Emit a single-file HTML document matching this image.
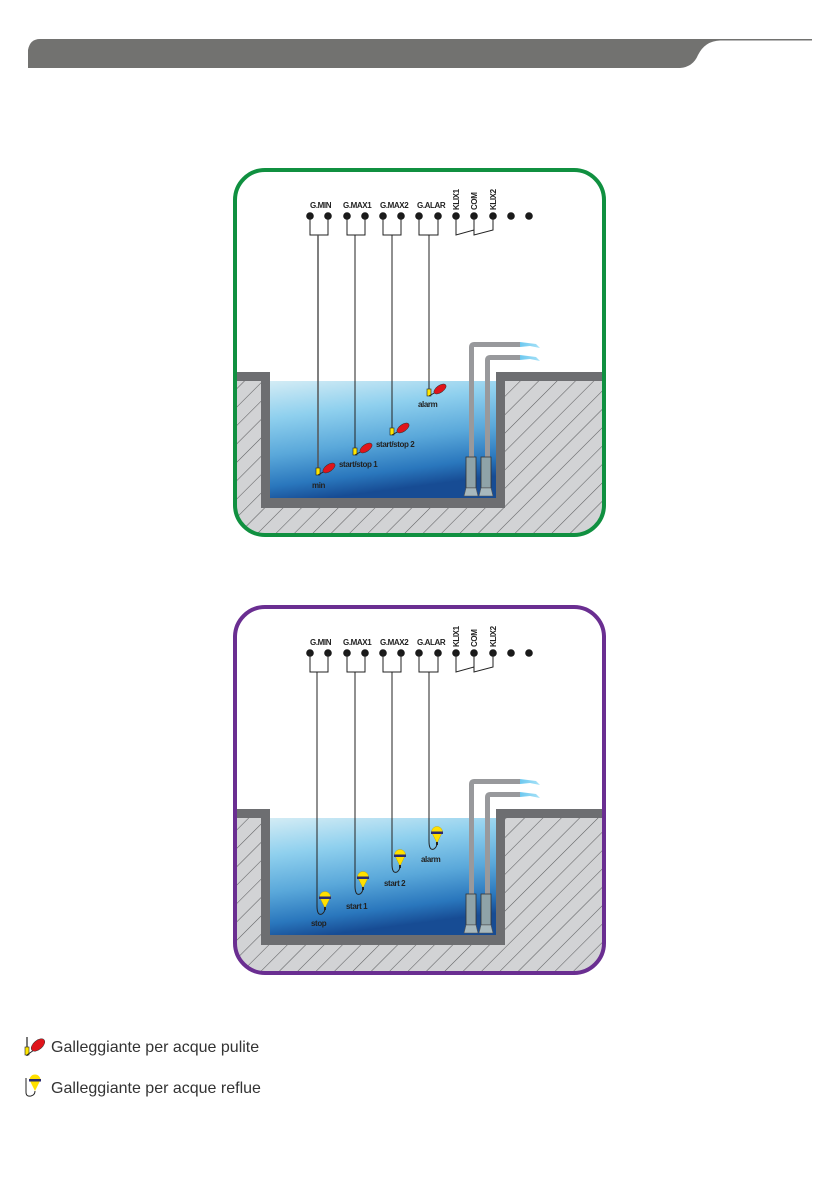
<!DOCTYPE html>
<html><head><meta charset="utf-8"><style>
html,body{margin:0;padding:0;background:#fff;}
body{width:840px;height:1192px;position:relative;overflow:hidden;}
svg{position:absolute;left:0;top:0;}
.t{font-family:"Liberation Sans",sans-serif;font-weight:bold;font-size:8px;fill:#222;letter-spacing:-0.4px;}
.lg{font-family:"Liberation Sans",sans-serif;font-size:16px;fill:#333;}
</style></head><body>
<svg width="840" height="1192" viewBox="0 0 840 1192">
<defs>
<pattern id="hatch" width="13" height="13" patternUnits="userSpaceOnUse" patternTransform="rotate(45)">
<rect width="13" height="13" fill="#d2d3d5"/>
<line x1="0" y1="0" x2="0" y2="13" stroke="#5f6062" stroke-width="1.1"/>
</pattern>
<linearGradient id="water" x1="0" y1="0" x2="0.25" y2="1">
<stop offset="0" stop-color="#d3ecf5"/>
<stop offset="0.3" stop-color="#8fd0ee"/>
<stop offset="0.6" stop-color="#5aa8da"/>
<stop offset="0.85" stop-color="#2a77bd"/>
<stop offset="1" stop-color="#174c94"/>
</linearGradient>
<linearGradient id="spray" x1="0" y1="0" x2="1" y2="0">
<stop offset="0" stop-color="#6cc8ef"/><stop offset="1" stop-color="#a8e2f8"/>
</linearGradient>
<clipPath id="c1"><rect x="235" y="170" width="369" height="365" rx="30"/></clipPath>
<clipPath id="c2"><rect x="235" y="607" width="369" height="366" rx="30"/></clipPath>
</defs>

<!-- header -->
<path d="M28 68 L28 50 Q30 39 40 39 L812 39 L812 40.5 L720 40.5 Q705 41 698 55 Q693 67 680 68 Z" fill="#727270"/>

<!-- ============ DIAGRAM 1 ============ -->
<g clip-path="url(#c1)">
<rect x="235" y="170" width="369" height="365" fill="#fff"/>
<rect x="235" y="372" width="369" height="170" fill="url(#hatch)"/>
<rect x="270" y="372" width="226" height="9" fill="#fff"/>
<rect x="270" y="381" width="226" height="117" fill="url(#water)"/>
<path d="M235 372 H270 V498 H496 V372 H604 V381 H505 V508 H261 V381 H235 Z" fill="#6d6e71"/>
</g>
<rect x="235" y="170" width="369" height="365" rx="30" fill="none" stroke="#109040" stroke-width="4"/>

<g class="t">
<text x="310" y="208">G.MIN</text>
<text x="343" y="208">G.MAX1</text>
<text x="380" y="208">G.MAX2</text>
<text x="417" y="208">G.ALAR</text>
<text transform="translate(459,210) rotate(-90)">KLIX1</text>
<text transform="translate(477,210) rotate(-90)">COM</text>
<text transform="translate(496,210) rotate(-90)">KLIX2</text>
</g>
<g fill="#1a1a1a">
<circle cx="310" cy="216" r="3.8"/><circle cx="328" cy="216" r="3.8"/>
<circle cx="347" cy="216" r="3.8"/><circle cx="365" cy="216" r="3.8"/>
<circle cx="383" cy="216" r="3.8"/><circle cx="401" cy="216" r="3.8"/>
<circle cx="419" cy="216" r="3.8"/><circle cx="438" cy="216" r="3.8"/>
<circle cx="456" cy="216" r="3.8"/><circle cx="474" cy="216" r="3.8"/>
<circle cx="493" cy="216" r="3.8"/><circle cx="511" cy="216" r="3.8"/>
<circle cx="529" cy="216" r="3.8"/>
</g>
<g fill="none" stroke="#222" stroke-width="1">
<path d="M310 216 V235 H328 V216 M347 216 V235 H365 V216 M383 216 V235 H401 V216 M419 216 V235 H438 V216"/>
<path d="M456 216 V235 L474 230 V216 M474 230 V235 L493 230 V216"/>
<line x1="318" y1="235" x2="318" y2="470" stroke="#555" stroke-width="1.5"/>
<line x1="355" y1="235" x2="355" y2="450"/>
<line x1="392" y1="235" x2="392" y2="430"/>
<line x1="429" y1="235" x2="429" y2="389"/>
</g>
<g>
<g transform="translate(318,468)"><rect x="-2" y="0" width="4" height="7" fill="#ffe600" stroke="#222" stroke-width="0.6"/><line x1="0" y1="7" x2="7" y2="3" stroke="#222"/><ellipse cx="11" cy="0" rx="7" ry="3.5" transform="rotate(-35 11 0)" fill="#e0141b" stroke="#333" stroke-width="0.5"/></g>
<g transform="translate(355,448)"><rect x="-2" y="0" width="4" height="7" fill="#ffe600" stroke="#222" stroke-width="0.6"/><line x1="0" y1="7" x2="7" y2="3" stroke="#222"/><ellipse cx="11" cy="0" rx="7" ry="3.5" transform="rotate(-35 11 0)" fill="#e0141b" stroke="#333" stroke-width="0.5"/></g>
<g transform="translate(392,428)"><rect x="-2" y="0" width="4" height="7" fill="#ffe600" stroke="#222" stroke-width="0.6"/><line x1="0" y1="7" x2="7" y2="3" stroke="#222"/><ellipse cx="11" cy="0" rx="7" ry="3.5" transform="rotate(-35 11 0)" fill="#e0141b" stroke="#333" stroke-width="0.5"/></g>
<g transform="translate(429,389)"><rect x="-2" y="0" width="4" height="7" fill="#ffe600" stroke="#222" stroke-width="0.6"/><line x1="0" y1="7" x2="7" y2="3" stroke="#222"/><ellipse cx="11" cy="0" rx="7" ry="3.5" transform="rotate(-35 11 0)" fill="#e0141b" stroke="#333" stroke-width="0.5"/></g>
</g>
<g class="t">
<text x="312" y="488">min</text>
<text x="339" y="467">start/stop 1</text>
<text x="376" y="447">start/stop 2</text>
<text x="418" y="407">alarm</text>
</g>
<g>
<path d="M471.5 460 V347 Q471.5 344.5 474 344.5 H520" fill="none" stroke="#98999c" stroke-width="5"/>
<path d="M487.5 460 V360 Q487.5 357.5 490 357.5 H520" fill="none" stroke="#98999c" stroke-width="5"/>
<path d="M520 342 L536 344 L540 348 L530 346 L520 347Z" fill="url(#spray)"/>
<path d="M520 355 L536 357 L540 361 L530 359 L520 360Z" fill="url(#spray)"/>
<rect x="466" y="457" width="10" height="31" fill="#8fa3a8" stroke="#333" stroke-width="0.8"/>
<rect x="481" y="457" width="10" height="31" fill="#8fa3a8" stroke="#333" stroke-width="0.8"/>
<path d="M466 488 H476 L478 496 H464Z" fill="#a7b8bd" stroke="#555" stroke-width="0.6"/>
<path d="M481 488 H491 L493 496 H479Z" fill="#a7b8bd" stroke="#555" stroke-width="0.6"/>
</g>

<!-- ============ DIAGRAM 2 ============ -->
<g clip-path="url(#c2)">
<rect x="235" y="607" width="369" height="366" fill="#fff"/>
<rect x="235" y="809" width="369" height="170" fill="url(#hatch)"/>
<rect x="270" y="809" width="226" height="9" fill="#fff"/>
<rect x="270" y="818" width="226" height="117" fill="url(#water)"/>
<path d="M235 809 H270 V935 H496 V809 H604 V818 H505 V945 H261 V818 H235 Z" fill="#6d6e71"/>
</g>
<rect x="235" y="607" width="369" height="366" rx="30" fill="none" stroke="#6a2e91" stroke-width="4"/>

<g class="t">
<text x="310" y="645">G.MIN</text>
<text x="343" y="645">G.MAX1</text>
<text x="380" y="645">G.MAX2</text>
<text x="417" y="645">G.ALAR</text>
<text transform="translate(459,647) rotate(-90)">KLIX1</text>
<text transform="translate(477,647) rotate(-90)">COM</text>
<text transform="translate(496,647) rotate(-90)">KLIX2</text>
</g>
<g fill="#1a1a1a">
<circle cx="310" cy="653" r="3.8"/><circle cx="328" cy="653" r="3.8"/>
<circle cx="347" cy="653" r="3.8"/><circle cx="365" cy="653" r="3.8"/>
<circle cx="383" cy="653" r="3.8"/><circle cx="401" cy="653" r="3.8"/>
<circle cx="419" cy="653" r="3.8"/><circle cx="438" cy="653" r="3.8"/>
<circle cx="456" cy="653" r="3.8"/><circle cx="474" cy="653" r="3.8"/>
<circle cx="493" cy="653" r="3.8"/><circle cx="511" cy="653" r="3.8"/>
<circle cx="529" cy="653" r="3.8"/>
</g>
<g fill="none" stroke="#222" stroke-width="1">
<path d="M310 653 V672 H328 V653 M347 653 V672 H365 V653 M383 653 V672 H401 V653 M419 653 V672 H438 V653"/>
<path d="M456 653 V672 L474 667 V653 M474 667 V672 L493 667 V653"/>
<path d="M317 672 V906 Q317 916 322 914 Q325 912 325 908"/>
<path d="M355 672 V886 Q355 896 360 894 Q363 892 363 888"/>
<path d="M392 672 V864 Q392 874 397 872 Q400 870 400 866"/>
<path d="M429 672 V841 Q429 851 434 849 Q437 847 437 843"/>
</g>
<g>
<g transform="translate(325,897)"><path d="M-5.5 0 A5.5 5.5 0 0 1 5.5 0 L0 11 Z" fill="#ffe000" stroke="#b89a00" stroke-width="0.4"/><rect x="-6" y="-0.5" width="12" height="2.5" fill="#2a2a6e"/><rect x="-1" y="10" width="2" height="3" fill="#222"/></g>
<g transform="translate(363,877)"><path d="M-5.5 0 A5.5 5.5 0 0 1 5.5 0 L0 11 Z" fill="#ffe000" stroke="#b89a00" stroke-width="0.4"/><rect x="-6" y="-0.5" width="12" height="2.5" fill="#2a2a6e"/><rect x="-1" y="10" width="2" height="3" fill="#222"/></g>
<g transform="translate(400,855)"><path d="M-5.5 0 A5.5 5.5 0 0 1 5.5 0 L0 11 Z" fill="#ffe000" stroke="#b89a00" stroke-width="0.4"/><rect x="-6" y="-0.5" width="12" height="2.5" fill="#2a2a6e"/><rect x="-1" y="10" width="2" height="3" fill="#222"/></g>
<g transform="translate(437,832)"><path d="M-5.5 0 A5.5 5.5 0 0 1 5.5 0 L0 11 Z" fill="#ffe000" stroke="#b89a00" stroke-width="0.4"/><rect x="-6" y="-0.5" width="12" height="2.5" fill="#2a2a6e"/><rect x="-1" y="10" width="2" height="3" fill="#222"/></g>
</g>
<g class="t">
<text x="311" y="926">stop</text>
<text x="346" y="909">start 1</text>
<text x="384" y="886">start 2</text>
<text x="421" y="862">alarm</text>
</g>
<g>
<path d="M471.5 897 V784 Q471.5 781.5 474 781.5 H520" fill="none" stroke="#98999c" stroke-width="5"/>
<path d="M487.5 897 V797 Q487.5 794.5 490 794.5 H520" fill="none" stroke="#98999c" stroke-width="5"/>
<path d="M520 779 L536 781 L540 785 L530 783 L520 784Z" fill="url(#spray)"/>
<path d="M520 792 L536 794 L540 798 L530 796 L520 797Z" fill="url(#spray)"/>
<rect x="466" y="894" width="10" height="31" fill="#8fa3a8" stroke="#333" stroke-width="0.8"/>
<rect x="481" y="894" width="10" height="31" fill="#8fa3a8" stroke="#333" stroke-width="0.8"/>
<path d="M466 925 H476 L478 933 H464Z" fill="#a7b8bd" stroke="#555" stroke-width="0.6"/>
<path d="M481 925 H491 L493 933 H479Z" fill="#a7b8bd" stroke="#555" stroke-width="0.6"/>
</g>

<!-- legend -->
<g transform="translate(28,1046)">
<line x1="-1" y1="-9" x2="-1" y2="10" stroke="#222" stroke-width="1.2"/>
<rect x="-3" y="1" width="4" height="8" fill="#ffe600" stroke="#222" stroke-width="0.6"/>
<line x1="-1" y1="9" x2="6" y2="4" stroke="#222"/>
<ellipse cx="10" cy="-1" rx="8" ry="4.5" transform="rotate(-40 10 -1)" fill="#e0141b" stroke="#333" stroke-width="0.5"/>
</g>
<text class="lg" x="51" y="1052">Galleggiante per acque pulite</text>
<g transform="translate(35,1080)">
<path d="M-5.5 0 A5.5 5.5 0 0 1 5.5 0 L0 11 Z" fill="#ffe000"/>
<rect x="-6" y="-1" width="12" height="2.5" fill="#2a2a6e"/>
<path d="M-9 -2 V12 Q-9 17 -4 16 Q0 15 0 11" fill="none" stroke="#222" stroke-width="1"/>
</g>
<text class="lg" x="51" y="1093">Galleggiante per acque reflue</text>
</svg>
</body></html>
